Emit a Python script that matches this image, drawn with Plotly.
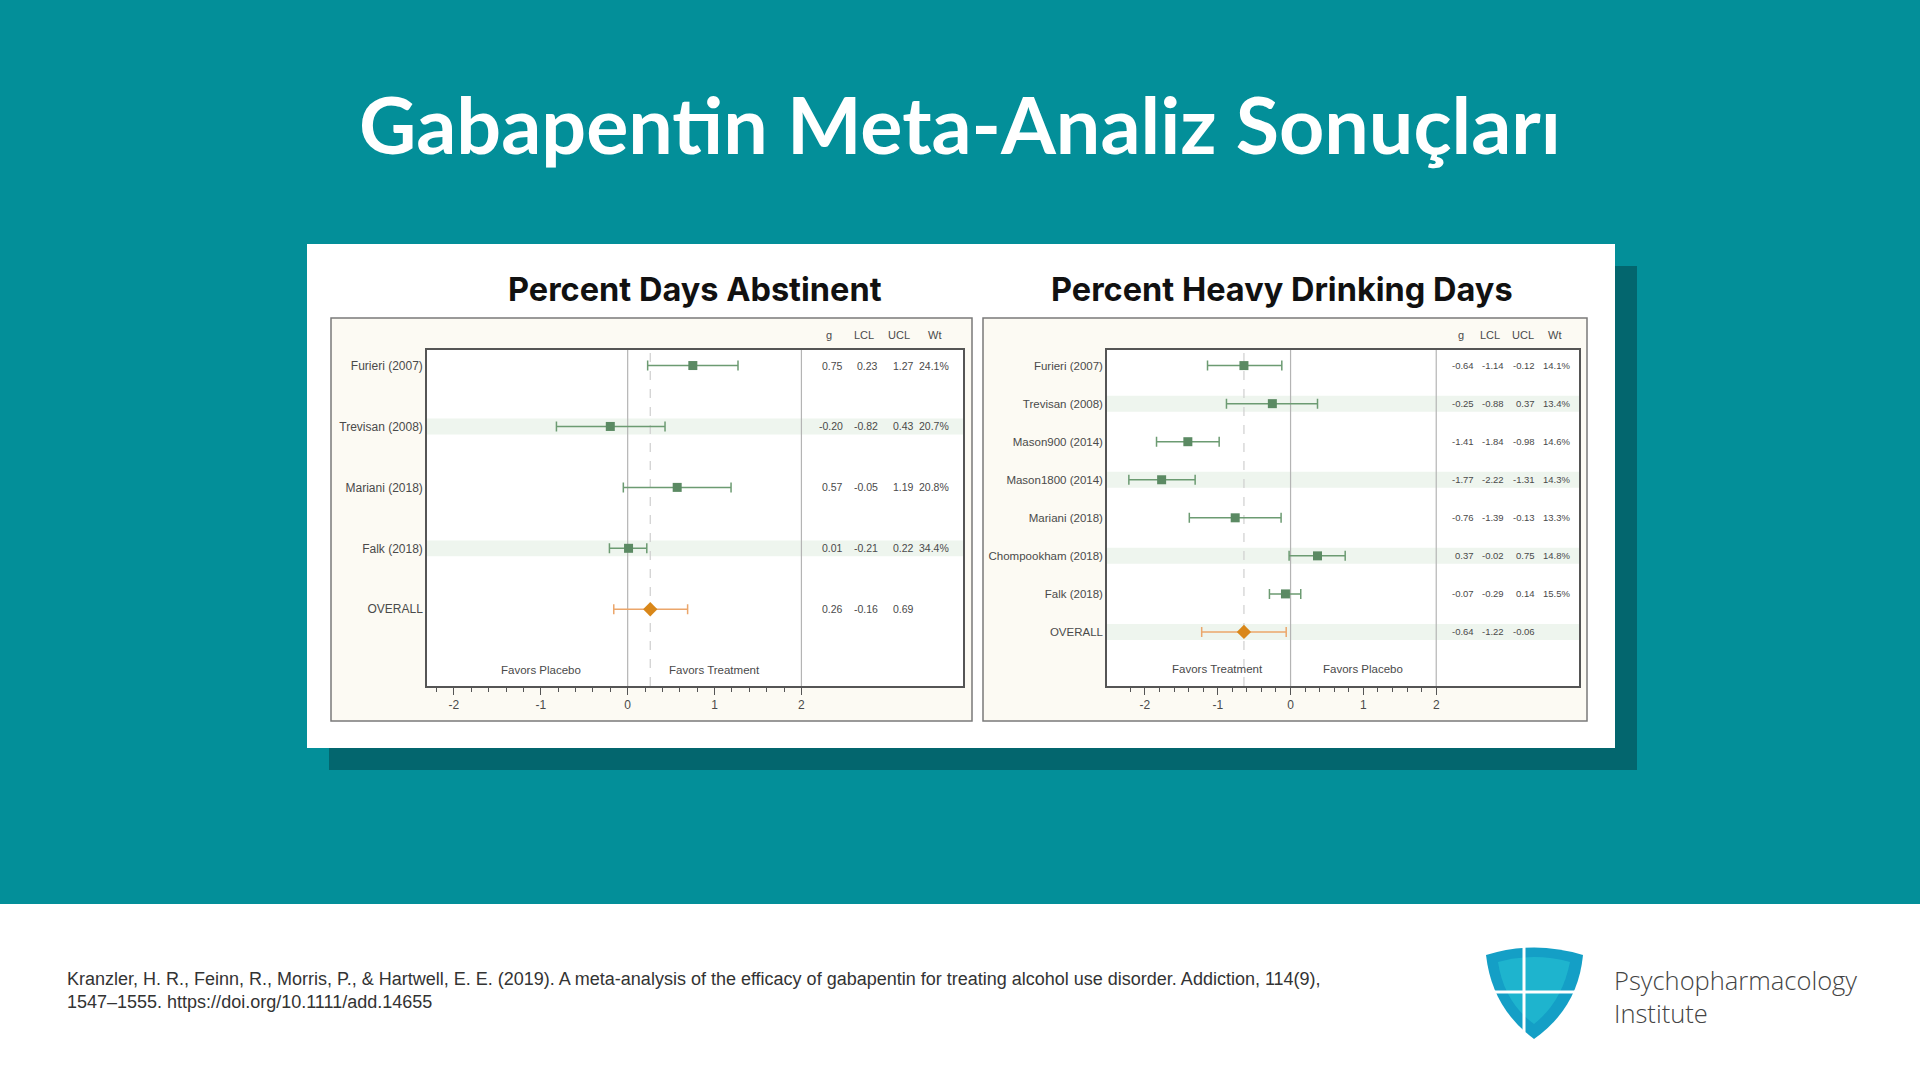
import plotly.graph_objects as go

W, H = 1920, 1080

# Percent Days Abstinent
pda_studies = ["Furieri (2007)", "Trevisan (2008)", "Mariani (2018)", "Falk (2018)"]
pda_g = [0.75, -0.20, 0.57, 0.01]
pda_lcl = [0.23, -0.82, -0.05, -0.21]
pda_ucl = [1.27, 0.43, 1.19, 0.22]
pda_wt = ["24.1%", "20.7%", "20.8%", "34.4%"]
pda_overall = [0.26, -0.16, 0.69]
pda_favors = ["Favors Placebo", "Favors Treatment"]

# Percent Heavy Drinking Days
phdd_studies = ["Furieri (2007)", "Trevisan (2008)", "Mason900 (2014)", "Mason1800 (2014)",
                "Mariani (2018)", "Chompookham (2018)", "Falk (2018)"]
phdd_g = [-0.64, -0.25, -1.41, -1.77, -0.76, 0.37, -0.07]
phdd_lcl = [-1.14, -0.88, -1.84, -2.22, -1.39, -0.02, -0.29]
phdd_ucl = [-0.12, 0.37, -0.98, -1.31, -0.13, 0.75, 0.14]
phdd_wt = ["14.1%", "13.4%", "14.6%", "14.3%", "13.3%", "14.8%", "15.5%"]
phdd_overall = [-0.64, -1.22, -0.06]
phdd_favors = ["Favors Treatment", "Favors Placebo"]

ticks = [-2, -1, 0, 1, 2]
tick_text = ["-2", "-1", "0", "1", "2"]
minor_ticks = [-2.2, -1.8, -1.6, -1.4, -1.2, -0.8, -0.6, -0.4, -0.2,
               0.2, 0.4, 0.6, 0.8, 1.2, 1.4, 1.6, 1.8]
col_heads = ["g", "LCL", "UCL", "Wt"]

TEAL = "#038f99"
GREEN = "#5b8a63"
GREEN_BAR = "#6c9b72"
ORANGE = "#d98719"
ORANGE_BAR = "#eba66b"
TXT = "#4a4a4a"
FONT = "Liberation Sans"


def px(x):
    return x / W


def py(y):
    return 1 - y / H


def rect(x0, y0, x1, y1, fill, line=None, lw=0):
    return dict(type="rect", xref="paper", yref="paper", layer="below",
                x0=px(x0), x1=px(x1), y0=py(y1), y1=py(y0),
                fillcolor=fill, line=dict(color=line or fill, width=lw))


def note(x, y, text, size, color, family, xanchor="center", **kw):
    return dict(x=px(x), y=py(y), xref="paper", yref="paper", text=text, showarrow=False,
                xanchor=xanchor, yanchor="middle", align=xanchor if xanchor != "center" else "center",
                font=dict(size=size, color=color, family=family, **kw))


fig = go.Figure()
shapes = []
annotations = []

# slide background pieces
shapes.append(rect(0, 904, W, H, "white"))
shapes.append(rect(329, 266, 1637, 770, "#03666e"))
shapes.append(rect(307, 244, 1615, 748, "white"))


def add_forest(n, studies, g, lcl, ucl, wt, overall, favors, box, outer, xr, yr,
               num_x, head_x, num_size, label_size, title, title_x):
    xa = "x" if n == 1 else "x%d" % n
    ya = "y" if n == 1 else "y%d" % n
    k = len(studies)
    rows = list(range(1, k + 1))

    shapes.append(rect(outer[0], outer[1], outer[2], outer[3], "#fcfaf3", "#7a7a7a", 1.5))
    shapes.append(rect(box[0], box[1], box[2], box[3], "white"))

    # alternate row bands
    for r in range(2, k + 2, 2):
        shapes.append(dict(type="rect", xref=xa + " domain", yref=ya, layer="below",
                           x0=0, x1=1, y0=r - yr[2], y1=r + yr[2],
                           fillcolor="#eef5ee", line=dict(width=0)))
    for xv in [0, 2]:
        shapes.append(dict(type="line", xref=xa, yref=ya + " domain", layer="below",
                           x0=xv, x1=xv, y0=0, y1=1, line=dict(color="#b4b4b4", width=1.2)))
    shapes.append(dict(type="line", xref=xa, yref=ya + " domain", layer="below",
                       x0=overall[0], x1=overall[0], y0=0, y1=1,
                       line=dict(color="#cfcfcf", width=1.2, dash="dash")))

    fig.add_trace(go.Scatter(
        x=g, y=rows, mode="markers", xaxis=xa, yaxis=ya,
        marker=dict(symbol="square", size=9, color=GREEN),
        error_x=dict(type="data", symmetric=False,
                     array=[u - v for u, v in zip(ucl, g)],
                     arrayminus=[v - l for v, l in zip(g, lcl)],
                     color=GREEN_BAR, thickness=1.5, width=5)))
    fig.add_trace(go.Scatter(
        x=[overall[0]], y=[k + 1], mode="markers", xaxis=xa, yaxis=ya,
        marker=dict(symbol="diamond", size=11, color=ORANGE),
        error_x=dict(type="data", symmetric=False,
                     array=[overall[2] - overall[0]], arrayminus=[overall[0] - overall[1]],
                     color=ORANGE_BAR, thickness=1.5, width=5)))

    # numeric columns
    for i, r in enumerate(rows):
        vals = ["%.2f" % g[i], "%.2f" % lcl[i], "%.2f" % ucl[i], wt[i]]
        for v, cx in zip(vals, num_x):
            annotations.append(dict(x=cx, y=r, xref=xa, yref=ya, text=v, showarrow=False,
                                    xanchor="right", yanchor="middle",
                                    font=dict(size=num_size, color=TXT, family=FONT)))
    for v, cx in zip(overall, num_x):
        annotations.append(dict(x=cx, y=k + 1, xref=xa, yref=ya, text="%.2f" % v, showarrow=False,
                                xanchor="right", yanchor="middle",
                                font=dict(size=num_size, color=TXT, family=FONT)))
    for h, cx in zip(col_heads, head_x):
        annotations.append(dict(x=cx, y=py(335), xref=xa, yref="paper", text=h, showarrow=False,
                                xanchor="center", yanchor="middle",
                                font=dict(size=11, color=TXT, family=FONT)))
    for j, fx in enumerate([-1, 1]):
        annotations.append(dict(x=fx, y=yr[3], xref=xa, yref=ya, text=favors[j], showarrow=False,
                                xanchor="center", yanchor="middle",
                                font=dict(size=11.5, color=TXT, family=FONT)))
    annotations.append(note(title_x, 289, title, 32.5, "#111111", "Inter", weight=700))

    axis_line = dict(showline=True, mirror=True, linecolor="#555555", linewidth=1.5,
                     showgrid=False, zeroline=False)
    fig.update_layout({
        ("xaxis" if n == 1 else "xaxis%d" % n): dict(
            domain=[px(box[0]), px(box[2])], range=xr, anchor=ya,
            tickmode="array", tickvals=ticks, ticktext=tick_text,
            ticks="outside", ticklen=7, tickcolor="#555555",
            minor=dict(tickmode="array", tickvals=minor_ticks, ticks="outside",
                       ticklen=4, tickcolor="#555555", showgrid=False),
            tickfont=dict(size=12, color=TXT, family=FONT), **axis_line),
        ("yaxis" if n == 1 else "yaxis%d" % n): dict(
            domain=[py(box[3]), py(box[1])], range=[yr[1], yr[0]], anchor=xa,
            tickmode="array", tickvals=rows + [k + 1], ticktext=studies + ["OVERALL"],
            ticks="", tickfont=dict(size=label_size, color=TXT, family=FONT), **axis_line),
    })


add_forest(1, pda_studies, pda_g, pda_lcl, pda_ucl, pda_wt, pda_overall, pda_favors,
           box=(427, 350, 963, 686), outer=(331, 318, 972, 721),
           xr=[-2.31, 3.86], yr=[0.745, 6.26, 0.13, 6.0],
           num_x=[2.50, 2.91, 3.32, 3.72], head_x=[2.32, 2.72, 3.12, 3.53], num_size=10.5,
           label_size=12, title="Percent Days Abstinent", title_x=695)
add_forest(2, phdd_studies, phdd_g, phdd_lcl, phdd_ucl, phdd_wt, phdd_overall, phdd_favors,
           box=(1107, 350, 1579, 686), outer=(983, 318, 1587, 721),
           xr=[-2.52, 3.96], yr=[0.59, 9.42, 0.21, 8.97],
           num_x=[2.55, 2.96, 3.39, 3.86], head_x=[2.34, 2.74, 3.19, 3.62], num_size=9.5,
           label_size=11.5, title="Percent Heavy Drinking Days", title_x=1282)

# slide title
annotations.append(note(960, 123, "Gabapentin Meta-Analiz Sonuçları", 79, "white", "Lato",
                        weight=700))

# citation
annotations.append(note(65, 990, "Kranzler, H. R., Feinn, R., Morris, P., & Hartwell, E. E. (2019). "
                                 "A meta-analysis of the efficacy of gabapentin for treating alcohol use "
                                 "disorder. Addiction, 114(9),<br>1547–1555. https://doi.org/10.1111/add.14655",
                        18, "#333333", "Liberation Sans", xanchor="left"))


# logo
def path(points):
    s = "M %f,%f" % (px(points[0][0]), py(points[0][1]))
    for p in points[1:]:
        if len(p) == 4:
            s += " Q %f,%f %f,%f" % (px(p[0]), py(p[1]), px(p[2]), py(p[3]))
        else:
            s += " L %f,%f" % (px(p[0]), py(p[1]))
    return s + " Z"


shapes.append(dict(type="path", xref="paper", yref="paper",
                   path=path([(1486, 955), (1534, 940, 1583, 955), (1578, 1008, 1534, 1039),
                              (1492, 1008, 1486, 955)]),
                   fillcolor="#149fc6", line=dict(width=0)))
shapes.append(dict(type="path", xref="paper", yref="paper",
                   path=path([(1498, 962), (1534, 952, 1570, 962), (1562, 1002, 1534, 1024),
                              (1504, 1002, 1498, 962)]),
                   fillcolor="#22bdd2", line=dict(width=0), opacity=0.7))
shapes.append(dict(type="line", xref="paper", yref="paper", x0=px(1524), x1=px(1524),
                   y0=py(946), y1=py(1032), line=dict(color="white", width=3)))
shapes.append(dict(type="line", xref="paper", yref="paper", x0=px(1487), x1=px(1582),
                   y0=py(992), y1=py(992), line=dict(color="white", width=3)))
annotations.append(note(1612, 996, "Psychopharmacology<br>Institute", 25.5, "#444444",
                        "Open Sans", xanchor="left", weight=300))

fig.update_layout(width=W, height=H, autosize=False, margin=dict(l=0, r=0, t=0, b=0),
                  paper_bgcolor=TEAL, plot_bgcolor="white", showlegend=False,
                  shapes=shapes, annotations=annotations)

fig.write_html("out.html", config={"displayModeBar": False},
               post_script="document.body.style.margin='0';document.body.style.overflow='hidden';")
